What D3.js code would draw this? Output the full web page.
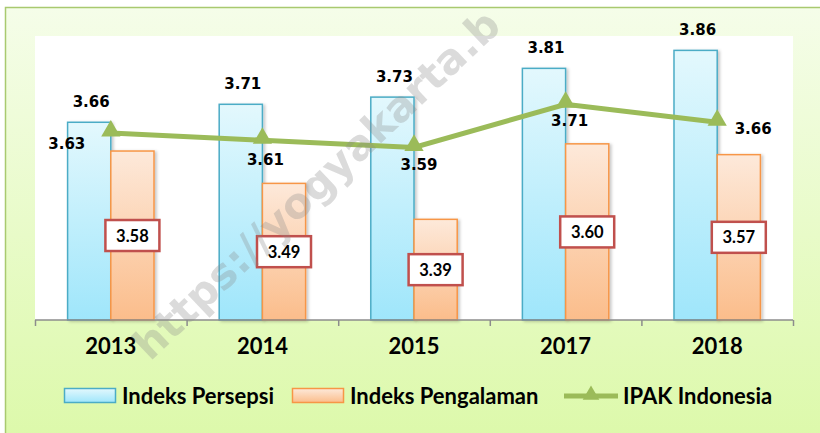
<!DOCTYPE html>
<html><head><meta charset="utf-8">
<script src="https://cdn.jsdelivr.net/npm/d3@7"></script>
<style>body{margin:0;background:#fff}svg{display:block}</style>
</head><body>
<svg id="c" width="820" height="433"></svg>
<script>
const categories = ["2013","2014","2015","2017","2018"];
const persepsi = [3.66, 3.71, 3.73, 3.81, 3.86];
const pengalaman = [3.58, 3.49, 3.39, 3.60, 3.57];
const ipak = [3.63, 3.61, 3.59, 3.71, 3.66];
const seriesNames = ["Indeks Persepsi", "Indeks Pengalaman", "IPAK Indonesia"];
const watermark = "https://yogyakarta.b";

const svg = d3.select("#c");
const defs = svg.append("defs");
function grad(id, stops){
  const g = defs.append("linearGradient").attr("id", id).attr("x1",0).attr("y1",0).attr("x2",0).attr("y2",1);
  stops.forEach(s => g.append("stop").attr("offset", s[0]).attr("stop-color", s[1]));
}
grad("bgG", [[0,"#f5fde9"],[1,"#dcf9a9"]]);
grad("blueG", [[0,"#e3f8fd"],[1,"#9fe6fb"]]);
grad("orgG", [[0,"#fde9da"],[1,"#fbbd8b"]]);
const sh = defs.append("filter").attr("id","sh").attr("x","-20%").attr("y","-20%").attr("width","150%").attr("height","150%");
sh.append("feDropShadow").attr("dx",2).attr("dy",1).attr("stdDeviation",1.5).attr("flood-color","#000").attr("flood-opacity",0.22);

// outer background
svg.append("rect").attr("x",5.5).attr("y",7.5).attr("width",830).attr("height",440)
  .attr("fill","url(#bgG)").attr("stroke","#a9c96f").attr("stroke-width",1.5);

const L = 35, R = 793, T = 36, B = 320;
svg.append("rect").attr("x",L).attr("y",T).attr("width",R-L).attr("height",B-T).attr("fill","#fff");

const x0 = d3.scaleBand().domain(categories).range([L,R]).paddingInner(0.43).paddingOuter(0.215);
const x1 = d3.scaleBand().domain([0,1]).range([0,x0.bandwidth()]);
const y = d3.scaleLinear().domain([3.11,3.9]).range([B,T]);

const g = svg.append("g");
g.selectAll(".bp").data(categories).join("rect")
  .attr("x",d=>x0(d)+x1(0)).attr("y",(d,i)=>y(persepsi[i]))
  .attr("width",x1.bandwidth()).attr("height",(d,i)=>B-y(persepsi[i]))
  .attr("fill","url(#blueG)").attr("stroke","#4bacc6").attr("stroke-width",1.5).attr("filter","url(#sh)");
g.selectAll(".bo").data(categories).join("rect")
  .attr("x",d=>x0(d)+x1(1)).attr("y",(d,i)=>y(pengalaman[i]))
  .attr("width",x1.bandwidth()).attr("height",(d,i)=>B-y(pengalaman[i]))
  .attr("fill","url(#orgG)").attr("stroke","#f79646").attr("stroke-width",1.5).attr("filter","url(#sh)");

// axis
const xa = svg.append("g").attr("transform",`translate(0,${B})`)
  .call(d3.axisBottom(d3.scalePoint().domain(d3.range(categories.length+1)).range([L,R])).tickSize(6).tickFormat(""));
xa.selectAll("line,path").attr("stroke","#8c8c8c").attr("stroke-width",1.5);
xa.select("path").attr("d",`M${L},0H${R}`);
const cx = d => x0(d) + x0.bandwidth()/2;
svg.selectAll(".cat").data(categories).join("text")
  .attr("x",cx).attr("y",354).attr("text-anchor","middle")
  .attr("font-family","Lato").attr("font-weight","bold").attr("font-size",22).attr("fill","#000").text(d=>d);

// pengalaman boxed labels
const bl = svg.selectAll(".lb").data(categories).join("g")
  .attr("transform",(d,i)=>`translate(${x0(d)+x1(1)+x1.bandwidth()/2},${(y(pengalaman[i])+B)/2})`);
bl.append("rect").attr("x",-27).attr("y",-15.5).attr("width",54).attr("height",31)
  .attr("fill","#fff").attr("stroke","#c0504d").attr("stroke-width",2.5);
bl.append("text").attr("y",6).attr("text-anchor","middle").attr("font-family","Lato").attr("font-weight","bold")
  .attr("font-size",16.5).text((d,i)=>pengalaman[i].toFixed(2));

// IPAK line
const line = d3.line().x((d,i)=>cx(categories[i])).y(d=>y(d));
svg.append("path").datum(ipak).attr("d",line).attr("fill","none").attr("stroke","#9bbb59").attr("stroke-width",5);
const tri = d3.symbol().type(d3.symbolTriangle).size(160);
svg.selectAll(".mk").data(ipak).join("path")
  .attr("d",tri).attr("transform",(d,i)=>`translate(${cx(categories[i])},${y(d)-2})`).attr("fill","#9bbb59");

// watermark over the plot
svg.append("text").text(watermark)
  .attr("transform","translate(150,362) rotate(-43.4)")
  .attr("font-family","DejaVu Sans").attr("font-weight","bold").attr("font-size",42)
  .attr("fill","#8a8a8a").attr("opacity",0.3);

// persepsi labels
svg.selectAll(".lp").data(categories).join("text")
  .attr("x",d=>x0(d)+x1(0)+x1.bandwidth()/2+2).attr("y",(d,i)=>y(persepsi[i])-15)
  .attr("text-anchor","middle").attr("font-family","DejaVu Sans").attr("font-weight","bold").attr("font-size",15)
  .text((d,i)=>persepsi[i].toFixed(2));
const off = [[-44,16],[3,25],[5,23],[4,22],[36,12]];
svg.selectAll(".li").data(ipak).join("text")
  .attr("x",(d,i)=>cx(categories[i])+off[i][0]).attr("y",(d,i)=>y(d)+off[i][1])
  .attr("text-anchor","middle").attr("font-family","DejaVu Sans").attr("font-weight","bold").attr("font-size",15)
  .text(d=>d.toFixed(2));

// legend
const lg = svg.append("g").attr("font-family","Lato").attr("font-weight","bold").attr("font-size",22);
lg.append("rect").attr("x",64.5).attr("y",388.5).attr("width",51).attr("height",14).attr("fill","url(#blueG)").attr("stroke","#4bacc6").attr("stroke-width",1.5);
lg.append("text").attr("x",122).attr("y",403.5).text(seriesNames[0]);
lg.append("rect").attr("x",292.5).attr("y",388.5).attr("width",51).attr("height",14).attr("fill","url(#orgG)").attr("stroke","#f79646").attr("stroke-width",1.5);
lg.append("text").attr("x",350).attr("y",403.5).text(seriesNames[1]);
lg.append("line").attr("x1",564).attr("x2",618).attr("y1",396).attr("y2",396).attr("stroke","#9bbb59").attr("stroke-width",5);
lg.append("path").attr("d",d3.symbol().type(d3.symbolTriangle).size(120)).attr("transform","translate(591,395)").attr("fill","#9bbb59");
lg.append("text").attr("x",623).attr("y",403.5).text(seriesNames[2]);
</script>
</body></html>
